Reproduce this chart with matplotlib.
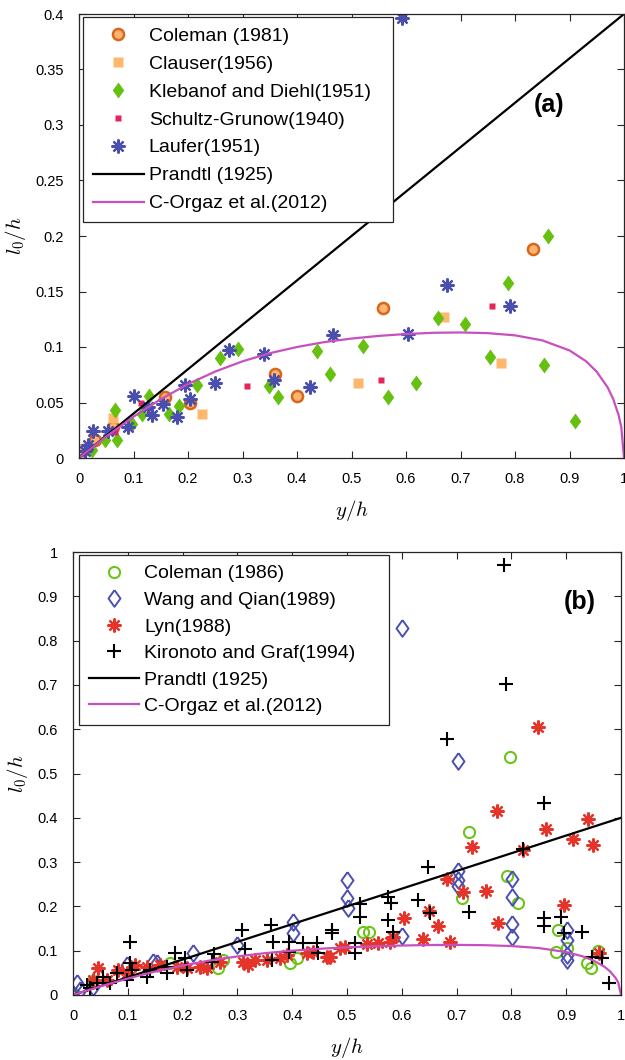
import matplotlib
matplotlib.use("Agg")
import matplotlib.pyplot as plt
from matplotlib.ticker import FormatStrFormatter, MultipleLocator

plt.rcParams['font.family'] = ['Liberation Sans', 'DejaVu Sans']
plt.rcParams['mathtext.fontset'] = 'cm'

# ---------------- panel (a): boundary-layer data ----------------
coleman81_x = [0.007, 0.030, 0.062, 0.158, 0.204, 0.360, 0.400, 0.558, 0.833]
coleman81_y = [0.007, 0.016, 0.028, 0.055, 0.050, 0.076, 0.056, 0.135, 0.188]

clauser_x = [0.008, 0.062, 0.225, 0.512, 0.670, 0.774]
clauser_y = [0.008, 0.036, 0.040, 0.068, 0.127, 0.086]

klebanof_x = [0.024, 0.048, 0.066, 0.070, 0.097, 0.116, 0.128, 0.165, 0.183,
              0.216, 0.259, 0.292, 0.349, 0.366, 0.437, 0.461, 0.521, 0.567,
              0.618, 0.658, 0.708, 0.754, 0.787, 0.853, 0.860, 0.910]
klebanof_y = [0.007, 0.016, 0.043, 0.016, 0.031, 0.040, 0.056, 0.040, 0.047,
              0.066, 0.090, 0.098, 0.065, 0.055, 0.096, 0.076, 0.101, 0.055,
              0.068, 0.126, 0.121, 0.091, 0.158, 0.084, 0.200, 0.033]

schultz_x = [0.066, 0.114, 0.308, 0.554, 0.758]
schultz_y = [0.023, 0.050, 0.065, 0.070, 0.137]

laufer_x = [0.011, 0.017, 0.026, 0.053, 0.090, 0.100, 0.126, 0.134, 0.155,
            0.180, 0.195, 0.204, 0.250, 0.275, 0.340, 0.358, 0.424, 0.466,
            0.593, 0.604, 0.675, 0.791]
laufer_y = [0.006, 0.012, 0.024, 0.024, 0.028, 0.056, 0.046, 0.039, 0.049,
            0.037, 0.066, 0.053, 0.068, 0.097, 0.094, 0.070, 0.064, 0.111,
            0.396, 0.112, 0.156, 0.137]

# ---------------- panel (b): open-channel data ----------------
coleman86_x = [0.000, 0.037, 0.177, 0.265, 0.274, 0.396, 0.408, 0.529, 0.540,
               0.710, 0.723, 0.792, 0.797, 0.812, 0.881, 0.885, 0.901, 0.938,
               0.945, 0.958]
coleman86_y = [0.005, 0.032, 0.072, 0.062, 0.080, 0.072, 0.083, 0.142, 0.142,
               0.219, 0.368, 0.269, 0.537, 0.208, 0.097, 0.147, 0.106, 0.072,
               0.061, 0.099]

wang_x = [0.007, 0.013, 0.037, 0.098, 0.146, 0.153, 0.219, 0.299, 0.401, 0.401,
          0.500, 0.500, 0.502, 0.600, 0.600, 0.703, 0.703, 0.703, 0.703,
          0.801, 0.801, 0.801, 0.801, 0.901, 0.901, 0.901, 0.901]
wang_y = [0.027, 0.011, 0.018, 0.068, 0.075, 0.072, 0.095, 0.113, 0.165, 0.140,
          0.260, 0.219, 0.196, 0.133, 0.828, 0.280, 0.260, 0.246, 0.528,
          0.262, 0.221, 0.160, 0.131, 0.147, 0.124, 0.090, 0.079]

lyn_x = [0.037, 0.046, 0.062, 0.082, 0.098, 0.113, 0.135, 0.159, 0.190, 0.208,
         0.232, 0.244, 0.268, 0.310, 0.320, 0.332, 0.354, 0.378, 0.390, 0.427,
         0.438, 0.463, 0.469, 0.487, 0.496, 0.536, 0.557, 0.578, 0.584, 0.604,
         0.639, 0.650, 0.666, 0.682, 0.688, 0.711, 0.728, 0.753, 0.773, 0.776,
         0.821, 0.849, 0.863, 0.896, 0.912, 0.940, 0.949, 0.960]
lyn_y = [0.034, 0.061, 0.034, 0.056, 0.050, 0.068, 0.064, 0.068, 0.064, 0.060,
         0.064, 0.060, 0.075, 0.075, 0.068, 0.079, 0.079, 0.083, 0.090, 0.095,
         0.097, 0.086, 0.086, 0.106, 0.108, 0.115, 0.117, 0.120, 0.131, 0.174,
         0.126, 0.190, 0.156, 0.262, 0.120, 0.232, 0.334, 0.235, 0.415, 0.162,
         0.327, 0.605, 0.375, 0.203, 0.352, 0.397, 0.339, 0.095]

kironoto_x = [0.026, 0.031, 0.044, 0.055, 0.068, 0.080, 0.098, 0.104, 0.104,
              0.107, 0.135, 0.140, 0.171, 0.171, 0.186, 0.204, 0.208, 0.254,
              0.257, 0.308, 0.314, 0.361, 0.365, 0.363, 0.394, 0.394, 0.420,
              0.445, 0.447, 0.473, 0.473, 0.515, 0.515, 0.524, 0.524, 0.575,
              0.580, 0.575, 0.584, 0.630, 0.648, 0.651, 0.682, 0.723, 0.786,
              0.790, 0.821, 0.860, 0.860, 0.860, 0.890, 0.896, 0.929, 0.947,
              0.965, 0.978]
kironoto_y = [0.023, 0.016, 0.027, 0.041, 0.027, 0.050, 0.034, 0.072, 0.120,
              0.056, 0.041, 0.056, 0.063, 0.050, 0.095, 0.084, 0.056, 0.075,
              0.093, 0.147, 0.104, 0.158, 0.120, 0.079, 0.120, 0.097, 0.117,
              0.117, 0.095, 0.147, 0.140, 0.117, 0.095, 0.205, 0.176, 0.222,
              0.207, 0.169, 0.142, 0.214, 0.289, 0.185, 0.578, 0.187, 0.971,
              0.702, 0.329, 0.433, 0.174, 0.156, 0.176, 0.140, 0.142, 0.086,
              0.084, 0.027]

# ---------------- model curves ----------------
prandtl_x = [0.0, 1.0]
prandtl_y = [0.0, 0.4]

orgaz_x = [0.0, 0.02, 0.05, 0.10, 0.15, 0.20, 0.25, 0.30, 0.35, 0.40, 0.45,
           0.50, 0.55, 0.60, 0.65, 0.70, 0.75, 0.80, 0.85, 0.90, 0.93, 0.95,
           0.97, 0.98, 0.99, 0.995, 1.0]
orgaz_y = [0.0, 0.0079, 0.0194, 0.0372, 0.0530, 0.0666, 0.0779, 0.0871,
           0.0944, 0.1000, 0.1044, 0.1076, 0.1100, 0.1117, 0.1128, 0.1131,
           0.1125, 0.1105, 0.1060, 0.0969, 0.0873, 0.0777, 0.0636, 0.0534,
           0.0388, 0.0279, 0.0]

ASTERISK = (8, 2, 0)
DIAMOND = [(0, 1), (0.72, 0), (0, -1), (-0.72, 0), (0, 1)]

LEGEND_KW = dict(loc='upper left', mode='expand', borderaxespad=0,
                 fontsize=14, handlelength=2.6, handletextpad=0.26,
                 numpoints=1)

W, H = 625, 1060
fig = plt.figure(figsize=(W / 100, H / 100), dpi=100)
ax1 = fig.add_axes([79 / W, 1 - 458 / H, 545 / W, 444 / H])
ax2 = fig.add_axes([73 / W, 1 - 995 / H, 548 / W, 443 / H])

# panel (a)
ax1.plot(coleman81_x, coleman81_y, 'o', ms=8, mfc='#FCB470', mec='#D8661C',
         mew=1.8, ls='none', label='Coleman (1981)')
ax1.plot(clauser_x, clauser_y, 's', ms=7, color='#FDB86E', mec='none',
         ls='none', label='Clauser(1956)')
ax1.plot(klebanof_x, klebanof_y, marker=DIAMOND, ms=11.5, color='#66C010',
         mec='none', ls='none', label='Klebanof and Diehl(1951)')
ax1.plot(schultz_x, schultz_y, 's', ms=5, color='#E6245C', mec='none',
         ls='none', label='Schultz-Grunow(1940)')
ax1.plot(laufer_x, laufer_y, marker=ASTERISK, ms=10, color='#4A4FAE', mew=1.6,
         ls='none', label='Laufer(1951)')
ax1.plot(prandtl_x, prandtl_y, color='black', lw=1.6, label='Prandtl (1925)')
ax1.plot(orgaz_x, orgaz_y, color='#C850BE', lw=1.6,
         label='C-Orgaz et al.(2012)')

ax1.set_xlim(0, 1)
ax1.set_ylim(0, 0.4)
ax1.yaxis.set_major_locator(MultipleLocator(0.05))
ax1.text(0.862, 0.795, '(a)', transform=ax1.transAxes, ha='center',
         va='center', fontsize=18, fontweight='bold')
leg1 = ax1.legend(bbox_to_anchor=(0.0073, 0.5, 0.569, 0.493),
                  borderpad=0.52, labelspacing=0.53, **LEGEND_KW)

# panel (b)
ax2.plot(coleman86_x, coleman86_y, 'o', ms=8, mfc='none', mec='#6CC418',
         mew=1.5, ls='none', label='Coleman (1986)')
ax2.plot(wang_x, wang_y, marker=DIAMOND, ms=12, mfc='none', mec='#4B50B0',
         mew=1.4, ls='none', label='Wang and Qian(1989)')
ax2.plot(lyn_x, lyn_y, marker=ASTERISK, ms=10, color='#E5352A', mew=1.6,
         ls='none', label='Lyn(1988)')
ax2.plot(kironoto_x, kironoto_y, '+', ms=10, color='black', mew=1.5,
         ls='none', label='Kironoto and Graf(1994)')
ax2.plot(prandtl_x, prandtl_y, color='black', lw=1.6, label='Prandtl (1925)')
ax2.plot(orgaz_x, orgaz_y, color='#C850BE', lw=1.6,
         label='C-Orgaz et al.(2012)')

ax2.set_xlim(0, 1)
ax2.set_ylim(0, 1)
ax2.yaxis.set_major_locator(MultipleLocator(0.1))
ax2.text(0.925, 0.887, '(b)', transform=ax2.transAxes, ha='center',
         va='center', fontsize=18, fontweight='bold')
leg2 = ax2.legend(bbox_to_anchor=(0.011, 0.5, 0.566, 0.493),
                  borderpad=0.5, labelspacing=0.46, **LEGEND_KW)

for ax, leg in ((ax1, leg1), (ax2, leg2)):
    ax.xaxis.set_major_locator(MultipleLocator(0.1))
    ax.xaxis.set_major_formatter(FormatStrFormatter('%g'))
    ax.yaxis.set_major_formatter(FormatStrFormatter('%g'))
    ax.tick_params(direction='in', top=True, right=True, length=5, width=0.8,
                   labelsize=10.5, colors='#262626', labelcolor='black')
    ax.tick_params(axis='x', pad=10)
    ax.tick_params(axis='y', pad=11)
    for s in ax.spines.values():
        s.set_linewidth(0.9)
        s.set_color('#262626')
    ax.set_xlabel('$y/h$', fontsize=15, labelpad=9)
    ax.set_ylabel('$l_0/h$', fontsize=15, labelpad=5)
    fr = leg.get_frame()
    fr.set_boxstyle('square', pad=0)
    fr.set_edgecolor('#262626')
    fr.set_linewidth(0.9)
    fr.set_alpha(1)

fig.savefig('out.png', dpi=100)
